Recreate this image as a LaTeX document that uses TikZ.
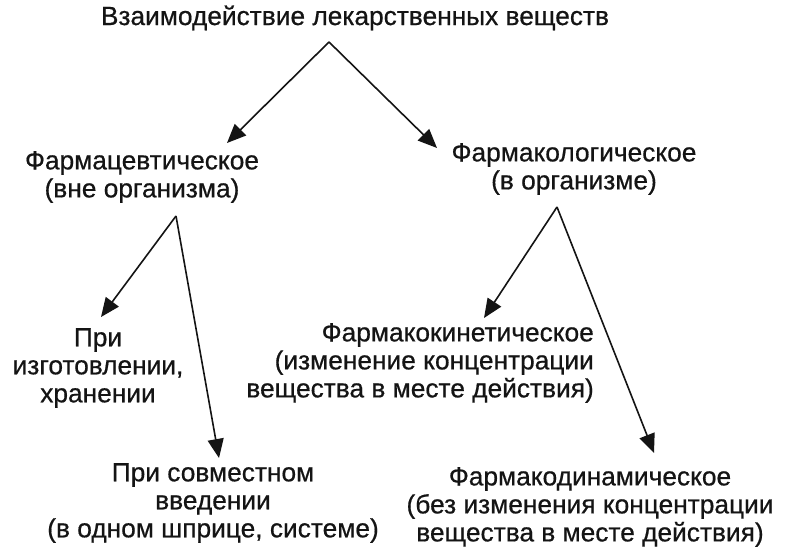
\documentclass[tikz,border=0pt]{standalone}
\usepackage{fontspec}
\setmainfont{Liberation Sans}
\newfontfamily\heavyfont[FakeBold=0.6]{Liberation Sans}
\usetikzlibrary{arrows.meta}
\begin{document}
\begin{tikzpicture}[x=1pt,y=-1pt,
  lbl/.style={inner sep=0pt, font=\heavyfont\fontsize{26.3}{28}\selectfont, text=black!92},
  arr/.style={line width=1.6pt, draw=black!92, -{Triangle[length=19pt,width=16pt]}}]
\useasboundingbox (0,0) rectangle (786,548);
\fill[white] (0,0) rectangle (786,548);
\node[lbl] (title) at (355,18) {Взаимодействие лекарственных веществ};
\node[lbl, align=center] (pharm) at (142,177) {Фармацевтическое\\(вне организма)};
\node[lbl, align=center] (pcol) at (574,169) {Фармакологическое\\(в организме)};
\node[lbl, align=center] (pri1) at (98,368) {При\\изготовлении,\\хранении};
\node[lbl, align=center] (pri2) at (213,503) {При совместном\\введении\\(в одном шприце, системе)};
\node[lbl, align=right, anchor=east] (kin) at (594,363) {Фармакокинетическое\\(изменение концентрации\\вещества в месте действия)};
\node[lbl, align=center] (dyn) at (590,507) {Фармакодинамическое\\(без изменения концентрации\\вещества в месте действия)};
\coordinate (a0) at (329,42);
\coordinate (t0l) at (227,143);
\coordinate (t0r) at (437,148);
\coordinate (a1) at (176,216);
\coordinate (t1l) at (101,317);
\coordinate (t1r) at (219,458);
\coordinate (a2) at (557,207);
\coordinate (t2l) at (484,318);
\coordinate (t2r) at (654,453);
\draw[arr] (a0) -- (t0l);
\draw[arr] (a0) -- (t0r);
\draw[arr] (a1) -- (t1l);
\draw[arr] (a1) -- (t1r);
\draw[arr] (a2) -- (t2l);
\draw[arr] (a2) -- (t2r);
\end{tikzpicture}
\end{document}
